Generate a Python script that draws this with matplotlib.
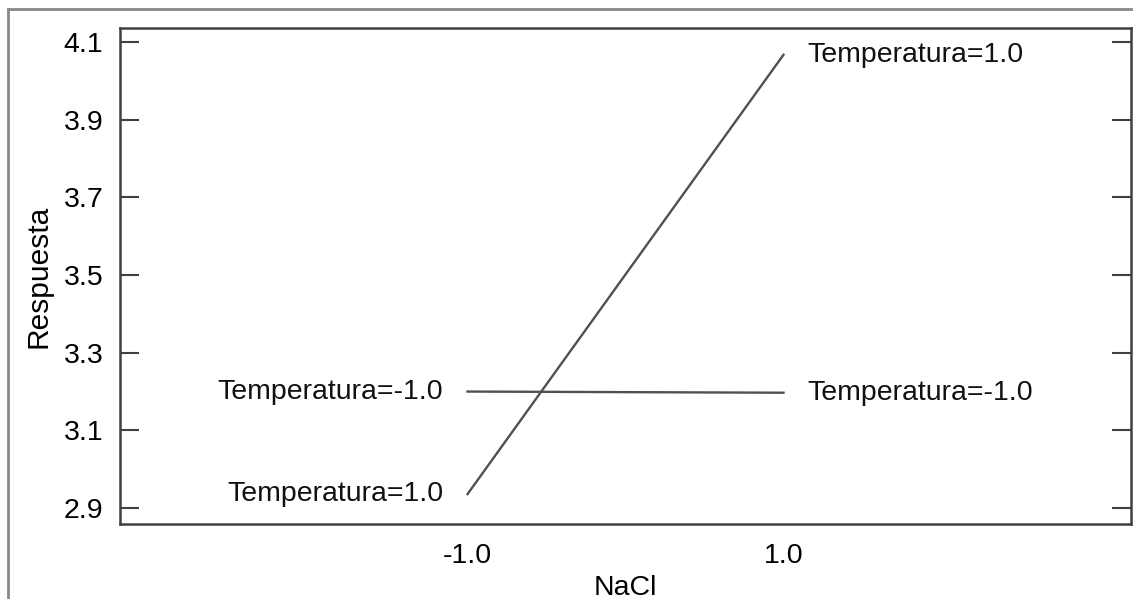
import matplotlib
matplotlib.use("Agg")
import matplotlib.pyplot as plt
from matplotlib.lines import Line2D

nacl = [-1.0, 1.0]
temp_labels = ["Temperatura=-1.0", "Temperatura=1.0"]
resp_temp_neg = [3.200, 3.197]
resp_temp_pos = [2.936, 4.067]
yticks = [2.9, 3.1, 3.3, 3.5, 3.7, 3.9, 4.1]
xticks = [-1.0, 1.0]

plt.rcParams['font.family'] = ['Liberation Sans', 'DejaVu Sans']

W, H = 1133, 599
fig = plt.figure(figsize=(W / 100, H / 100), dpi=100, facecolor='white')
ax = fig.add_axes([120 / W, 1 - 524 / H, (1131 - 120) / W, (524 - 28) / H])

lc = '#505050'
ax.plot(nacl, resp_temp_neg, color=lc, lw=1.7)
ax.plot(nacl, resp_temp_pos, color=lc, lw=1.7)

fs = 20.5
for series, lab in [(resp_temp_neg, temp_labels[0]), (resp_temp_pos, temp_labels[1])]:
    ax.annotate(lab, (nacl[0], series[0]), xytext=(-17.5, 0), textcoords='offset points',
                ha='right', va='center', fontsize=fs, color='#111111')
    ax.annotate(lab, (nacl[1], series[1]), xytext=(17.5, 0), textcoords='offset points',
                ha='left', va='center', fontsize=fs, color='#111111')

ax.set_xlim(-3.2, 3.2)
ax.set_ylim(2.859, 4.136)
ax.set_yticks(yticks)
ax.set_yticklabels([f"{v:.1f}" for v in yticks])
ax.set_xticks(xticks)
ax.set_xticklabels([f"{v:.1f}" for v in xticks])
ax.tick_params(axis='y', direction='in', length=14, width=1.5, color='#404040',
               labelsize=fs, pad=12, right=True, left=True)
ax.tick_params(axis='x', length=0, labelsize=fs, pad=14)
for s in ax.spines.values():
    s.set_color('#404040')
    s.set_linewidth(1.8)

ax.set_ylabel("Respuesta", fontsize=21.5, labelpad=8)
ax.set_xlabel("NaCl", fontsize=fs, labelpad=4)

# outer frame
fx = 8 / W
fy = 1 - 9 / H
fig.add_artist(Line2D([fx, fx], [0, fy], transform=fig.transFigure, color='#888888', lw=2))
fig.add_artist(Line2D([fx, 1], [fy, fy], transform=fig.transFigure, color='#888888', lw=2))

fig.savefig("out.png", dpi=100, facecolor='white')
